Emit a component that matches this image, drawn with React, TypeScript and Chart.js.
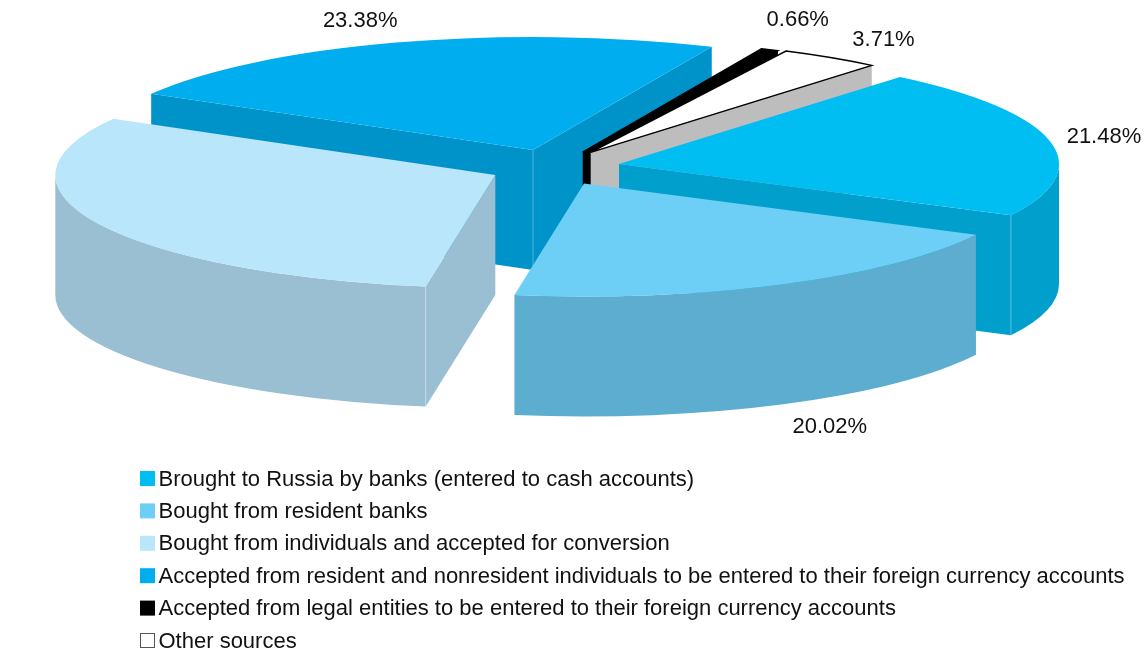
import React, { useEffect, useRef } from "react";
import { Chart, registerables } from "chart.js";

Chart.register(...registerables);

const categories = [
  "Brought to Russia by banks (entered to cash accounts)",
  "Bought from resident banks",
  "Bought from individuals and accepted for conversion",
  "Accepted from resident and nonresident individuals to be entered to their foreign currency accounts",
  "Accepted from legal entities to be entered to their foreign currency accounts",
  "Other sources",
];
const shares = [21.48, 20.02, 30.75, 23.38, 0.66, 3.71];

const topColors = ["#00BDF2", "#6DCFF6", "#B9E6FB", "#00AEEF", "#000000", "#FFFFFF"];
const wallColors = ["#009FCC", "#5CADCF", "#9ABFD3", "#0093CA", "#000000", "#BDBDBD"];
const outlineColors = [null, null, null, null, "#000000", "#000000"];
const legendBorders = [null, null, null, null, null, "#555555"];

// 3D view of the pie
const ROTATION = 39.7;
const RADIUS_X = 440;
const RADIUS_Y = 113;
const DEPTH = 120;
const paintOrder = [3, 4, 5, 2, 0, 1];
const explode = [
  [59, -1],
  [24, 18.5],
  [-64.7, 10],
  [-27, -15],
  [22.7, -13],
  [30.7, -12.7],
];
const labelNudge = [
  [54, -4.6],
  [46.5, 143],
  [-258.7, 80],
  [-36, -22],
  [28, -29.5],
  [53, -18],
];

const FONT = '22px "Liberation Sans", Arial, sans-serif';
const TWO_PI = Math.PI * 2;

const pie3d = {
  id: "pie3d",
  beforeDatasetDraw(chart: any) {
    const ctx: CanvasRenderingContext2D = chart.ctx;
    const arcs = chart.getDatasetMeta(0).data;

    for (const i of paintOrder) {
      const arc = arcs[i];
      const cx = arc.x + explode[i][0];
      const cy = arc.y + explode[i][1];
      let a0 = arc.startAngle % TWO_PI;
      if (a0 < 0) a0 += TWO_PI;
      const a1 = a0 + (arc.endAngle - arc.startAngle);
      const px = (a: number) => cx + RADIUS_X * Math.cos(a);
      const py = (a: number) => cy + RADIUS_Y * Math.sin(a);

      const face = (a: number) => {
        ctx.beginPath();
        ctx.moveTo(cx, cy);
        ctx.lineTo(px(a), py(a));
        ctx.lineTo(px(a), py(a) + DEPTH);
        ctx.lineTo(cx, cy + DEPTH);
        ctx.closePath();
        ctx.fillStyle = wallColors[i];
        ctx.fill();
      };
      const startFace = Math.cos(a0) < 0;
      const endFace = Math.cos(a1) > 0;
      if (startFace) face(a0);
      if (endFace) face(a1);

      // outer rim: only the part turned to the viewer
      const rims: [number, number][] = [];
      for (const [lo, hi] of [[0, Math.PI], [TWO_PI, TWO_PI + Math.PI]]) {
        const f = Math.max(a0, lo);
        const t = Math.min(a1, hi);
        if (t > f) rims.push([f, t]);
      }
      for (const [f, t] of rims) {
        ctx.beginPath();
        ctx.ellipse(cx, cy, RADIUS_X, RADIUS_Y, 0, f, t);
        ctx.ellipse(cx, cy + DEPTH, RADIUS_X, RADIUS_Y, 0, t, f, true);
        ctx.closePath();
        ctx.fillStyle = wallColors[i];
        ctx.fill();
      }

      // faint light line where two walls meet
      ctx.strokeStyle = "rgba(255,255,255,0.3)";
      ctx.lineWidth = 1;
      const corner = (x: number, y: number) => {
        ctx.beginPath();
        ctx.moveTo(x, y);
        ctx.lineTo(x, y + DEPTH);
        ctx.stroke();
      };
      if (i !== 4 && i !== 5) {
        if (startFace && endFace) corner(cx, cy);
        else if (startFace && rims.length) corner(px(a0), py(a0));
        else if (endFace && rims.length) corner(px(a1), py(a1));
      }

      // top surface: the library's own arc, flattened
      ctx.save();
      ctx.translate(cx, cy);
      ctx.scale(RADIUS_X / arc.outerRadius, RADIUS_Y / arc.outerRadius);
      ctx.translate(-arc.x, -arc.y);
      arc.draw(ctx);
      ctx.restore();

      if (outlineColors[i]) {
        ctx.beginPath();
        ctx.moveTo(cx, cy);
        ctx.ellipse(cx, cy, RADIUS_X, RADIUS_Y, 0, a0, a1);
        ctx.closePath();
        ctx.strokeStyle = outlineColors[i] as string;
        ctx.lineWidth = 1.4;
        ctx.stroke();
      }
    }

    // percentage labels
    ctx.font = FONT;
    ctx.fillStyle = "#111111";
    ctx.textAlign = "center";
    ctx.textBaseline = "middle";
    arcs.forEach((arc: any, i: number) => {
      const mid = (arc.startAngle + arc.endAngle) / 2;
      const x = arc.x + explode[i][0] + RADIUS_X * Math.cos(mid) + labelNudge[i][0];
      const y = arc.y + explode[i][1] + RADIUS_Y * Math.sin(mid) + labelNudge[i][1];
      ctx.fillText(shares[i].toFixed(2) + "%", x, y);
    });

    // legend
    const LEFT = 140;
    const TOP = 471;
    const STEP = 32.4;
    ctx.textAlign = "left";
    ctx.textBaseline = "alphabetic";
    categories.forEach((name, i) => {
      const y = TOP + i * STEP;
      ctx.fillStyle = topColors[i];
      ctx.fillRect(LEFT, y, 15, 15);
      if (legendBorders[i]) {
        ctx.strokeStyle = legendBorders[i] as string;
        ctx.lineWidth = 1;
        ctx.strokeRect(LEFT + 0.5, y + 0.5, 14, 14);
      }
      ctx.fillStyle = "#111111";
      ctx.fillText(name, LEFT + 18.5, y + 14.5);
    });
    return false;
  },
};

export default function App() {
  const ref = useRef<HTMLCanvasElement>(null);
  useEffect(() => {
    document.body.style.margin = "0";
    const chart = new Chart(ref.current as HTMLCanvasElement, {
      type: "pie",
      data: {
        labels: categories,
        datasets: [{ data: shares, backgroundColor: topColors, borderWidth: 0 }],
      },
      options: {
        responsive: false,
        animation: false,
        events: [],
        rotation: ROTATION,
        layout: { padding: { left: 0, top: 0, right: 26, bottom: 321 } },
        plugins: { legend: { display: false }, tooltip: { enabled: false } },
      },
      plugins: [pie3d],
    } as any);
    return () => chart.destroy();
  }, []);
  return <canvas ref={ref} width={1146} height={651} style={{ display: "block", background: "#fff" }} />;
}
